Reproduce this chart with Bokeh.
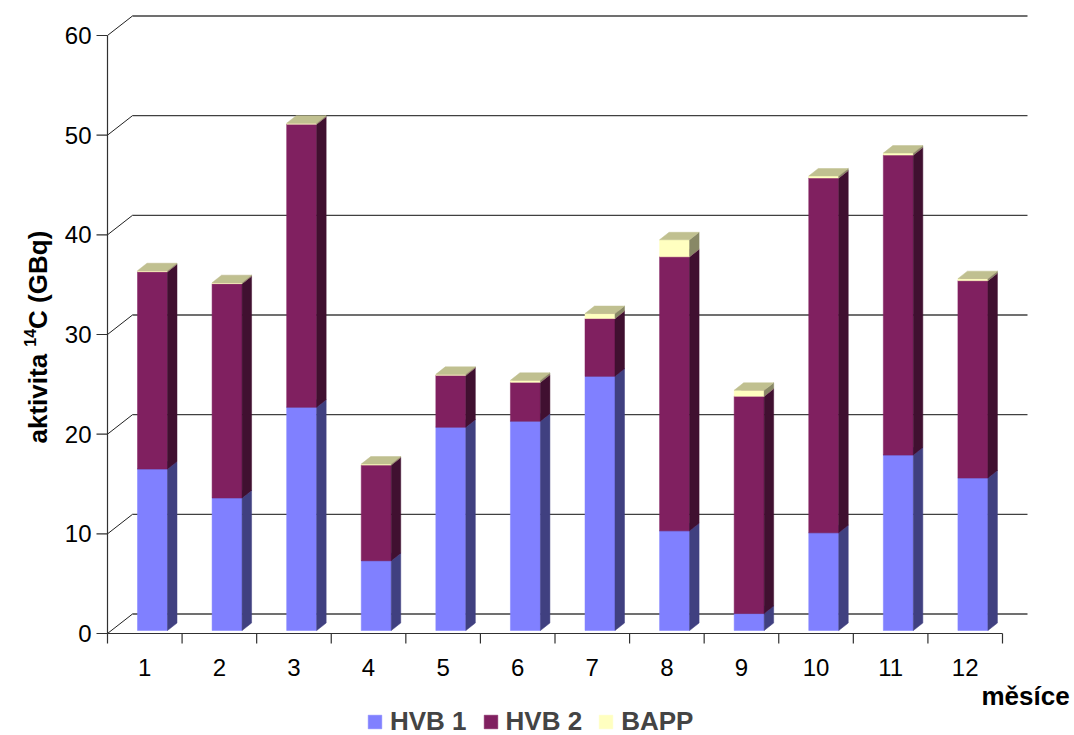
import numpy as np
from bokeh.plotting import figure
from bokeh.models import Range1d, Legend, LegendItem
from bokeh.core.properties import value
from bokeh.embed import file_html
from bokeh.resources import INLINE

# ---------------- data ----------------
months = ["1", "2", "3", "4", "5", "6", "7", "8", "9", "10", "11", "12"]
hvb1 = [16.2, 13.3, 22.4, 7.0, 20.4, 21.0, 25.5, 10.0, 1.7, 9.8, 17.6, 15.3]
hvb2 = [19.8, 21.5, 28.4, 9.6, 5.2, 3.9, 5.8, 27.5, 21.8, 35.6, 30.1, 19.8]
bapp = [0.1, 0.1, 0.1, 0.1, 0.1, 0.2, 0.5, 1.7, 0.6, 0.2, 0.2, 0.2]
series_names = ["HVB 1", "HVB 2", "BAPP"]
y_ticks = [0, 10, 20, 30, 40, 50, 60]
y_tick_labels = ["0", "10", "20", "30", "40", "50", "60"]
y_label_parts = ["aktivita ", "14", "C (GBq)"]
x_title = "měsíce"

# ---------------- layout (pixels) ----------------
W, H = 1074, 735
X0, Y0 = 107, 633           # front-axis corner inside the figure (from left / from top)
PX_CAT = 74.583             # pixels per category
PX_VAL = 9.967              # pixels per value unit
FONT = "Liberation Sans"


def xd(px):
    return px / PX_CAT


def yd(px):
    return px / PX_VAL


DXB, DYB = xd(25), yd(19.5)     # depth of back wall
BDX, BDY = xd(9.5), yd(7.5)     # depth of bars
BAR_LEFT, BAR_W, BAR_RISE = 30, 30, 3

p = figure(width=W, height=H,
           x_range=Range1d(-X0 / PX_CAT, (W - X0) / PX_CAT),
           y_range=Range1d(-(H - Y0) / PX_VAL, Y0 / PX_VAL),
           output_backend="svg", toolbar_location=None,
           x_axis_location=None, y_axis_location=None,
           min_border=0, outline_line_color=None)
p.grid.visible = False
p.background_fill_color = "white"

n = len(months)
idx = np.arange(n)
ncat = float(n)
yt = np.array(y_ticks, float)

# back wall grid lines and left diagonals
p.segment(x0=np.full(len(yt), DXB), y0=yt + DYB, x1=np.full(len(yt), ncat + DXB), y1=yt + DYB,
          line_color="#404040", line_width=1.3)
p.segment(x0=np.zeros(len(yt)), y0=yt, x1=np.full(len(yt), DXB), y1=yt + DYB,
          line_color="#202020", line_width=1)

# bars
series = [hvb1, hvb2, bapp]
c_front = ["#8080FF", "#802060", "#FFFFC0"]
c_side = ["#404080", "#401030", "#888866"]
c_top = ["#6060C0", "#A04080", "#C0C090"]

base = np.zeros(n)
front_renderers = []
for k, vals in enumerate(series):
    v = np.array(vals, float)
    bot = base + yd(BAR_RISE)
    top = base + v + yd(BAR_RISE)
    left = idx + xd(BAR_LEFT)
    right = left + xd(BAR_W)
    r = p.quad(left=left, right=right, bottom=bot, top=top,
               fill_color=c_front[k], line_color=c_front[k], line_width=0.5)
    front_renderers.append(r)
    side_xs = [[rr, rr + BDX, rr + BDX, rr] for rr in right]
    side_ys = [[b, b + BDY, t + BDY, t] for b, t in zip(bot, top)]
    p.patches(side_xs, side_ys, fill_color=c_side[k], line_color=c_side[k], line_width=0.5)
    top_xs = [[l, l + BDX, rr + BDX, rr] for l, rr in zip(left, right)]
    top_ys = [[t, t + BDY, t + BDY, t] for t in top]
    p.patches(top_xs, top_ys, fill_color=c_top[k], line_color=c_top[k], line_width=0.5)
    base = base + v

# front axes
p.segment(x0=[0], y0=[0], x1=[0], y1=[yt.max()], line_color="#303030", line_width=1.2)
p.segment(x0=np.full(len(yt), -xd(11)), y0=yt, x1=np.zeros(len(yt)), y1=yt,
          line_color="#303030", line_width=1.2)
p.segment(x0=[0], y0=[0], x1=[ncat], y1=[0], line_color="#303030", line_width=1.2)
bounds = np.arange(n + 1, dtype=float)
p.segment(x0=bounds, y0=np.zeros(n + 1), x1=bounds, y1=np.full(n + 1, -yd(10)),
          line_color="#303030", line_width=1.2)

# tick labels
p.text(x=np.full(len(yt), -xd(16)), y=yt, text=y_tick_labels,
       text_align="right", text_baseline="middle",
       text_font=value(FONT), text_font_size="24px", text_color="black")
p.text(x=idx + 0.5, y=np.full(n, -yd(34)), text=months,
       text_align="center", text_baseline="middle",
       text_font=value(FONT), text_font_size="24px", text_color="black")

# x title
p.text(x=[xd(981 - 107)], y=[-yd(695.7 - 633)], text=[x_title],
       text_align="left", text_baseline="alphabetic",
       text_font=value(FONT), text_font_size="26px", text_font_style="bold", text_color="black")

# y title (rotated, with superscript)
adv = {"a": 556, "k": 556, "t": 333, "i": 278, "v": 556, " ": 278, "1": 556, "4": 556,
       "C": 722, "(": 333, "G": 778, "B": 722, "q": 611, ")": 333}


def tw(s, size):
    return sum(adv.get(ch, 556) for ch in s) / 1000.0 * size


base_x_px = 37 - 107
start_y_px = 443
s_main, s_sup = 26, 16
w1 = tw(y_label_parts[0], s_main)
w2 = tw(y_label_parts[1], s_sup)
p.text(x=[xd(base_x_px)], y=[-yd(start_y_px - 633)], text=[y_label_parts[0]], angle=np.pi / 2,
       text_align="left", text_baseline="alphabetic",
       text_font=value(FONT), text_font_size=f"{s_main}px", text_font_style="bold")
p.text(x=[xd(base_x_px - 8)], y=[-yd(start_y_px - w1 - 633)], text=[y_label_parts[1]], angle=np.pi / 2,
       text_align="left", text_baseline="alphabetic",
       text_font=value(FONT), text_font_size=f"{s_sup}px", text_font_style="bold")
p.text(x=[xd(base_x_px)], y=[-yd(start_y_px - w1 - w2 - 633)], text=[y_label_parts[2]], angle=np.pi / 2,
       text_align="left", text_baseline="alphabetic",
       text_font=value(FONT), text_font_size=f"{s_main}px", text_font_style="bold")

# legend
legend = Legend(items=[LegendItem(label=nm, renderers=[r]) for nm, r in zip(series_names, front_renderers)],
                orientation="horizontal", location=(366, -2),
                glyph_width=17, glyph_height=17, label_standoff=7, spacing=15,
                padding=0, margin=0, border_line_alpha=0, background_fill_alpha=0,
                label_text_font=FONT, label_text_font_style="bold", label_text_font_size="26px",
                label_height=17)
p.add_layout(legend)

open("out.html", "w").write(file_html(p, INLINE))
